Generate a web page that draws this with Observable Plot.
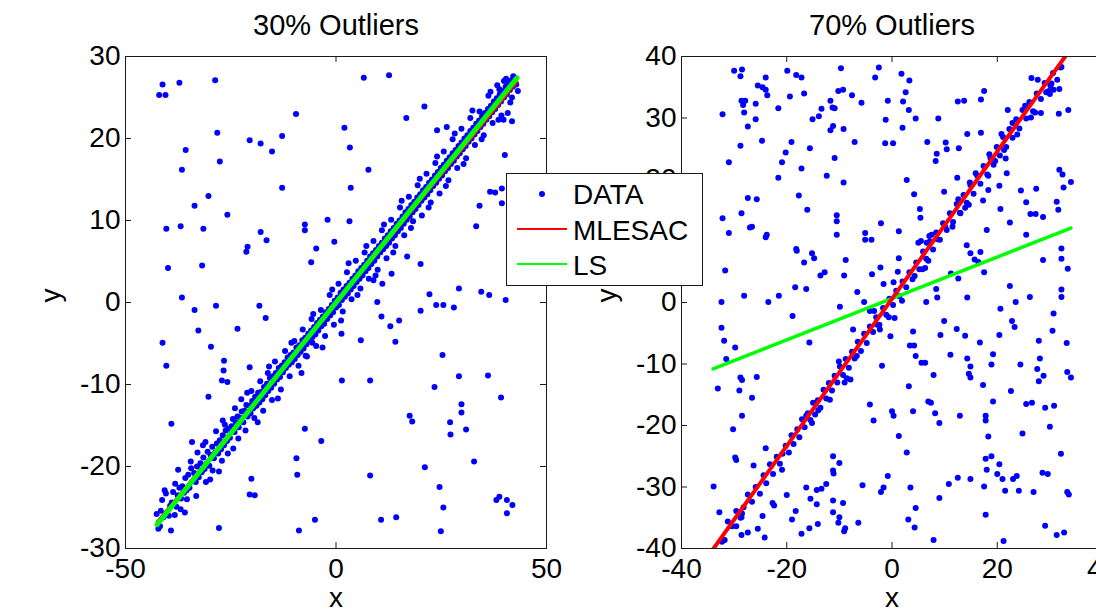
<!DOCTYPE html>
<html><head><meta charset="utf-8">
<script src="https://cdn.jsdelivr.net/npm/d3@7"></script>
<script src="https://cdn.jsdelivr.net/npm/@observablehq/plot@0.6"></script>
<style>
body{margin:0;background:#fff;}
#wrap{position:relative;width:1096px;height:611px;overflow:hidden;background:#fff;font-family:"Liberation Sans",Arial,Helvetica,sans-serif;}
#left,#right{position:absolute;top:0;width:560px;height:611px;}
#left{left:0px} #right{left:560px}
#left svg,#right svg{max-width:none !important;width:560px;height:611px;display:block;}
#legend{position:absolute;left:506px;top:173px;}
</style></head><body>
<div id="wrap"><div id="left"></div><div id="right"></div><div id="legend"></div></div>
<script>
const titles = ["30% Outliers", "70% Outliers"];
const axisLabels = ["x", "y"];
const legendLabels = ["DATA", "MLESAC", "LS"];
const leftXTicks = [-50, 0, 50];
const leftYTicks = [-30, -20, -10, 0, 10, 20, 30];
const rightXTicks = [-40, -20, 0, 20, 40];
const rightYTicks = [-40, -30, -20, -10, 0, 10, 20, 30, 40];

// 30% outliers panel: points on the model line
const leftInliers = [[-42.6,-25.8],[-42.2,-27.6],[-41.8,-27.3],[-41.6,-25.4],[-41.3,-24.1],[-41.0,-26.2],[-40.7,-22.9],[-40.4,-23.3],[-40.1,-25.6],[-39.7,-26.0],[-39.4,-24.8],[-39.0,-24.4],[-38.7,-23.1],[-38.3,-25.9],[-37.9,-24.9],[-37.6,-23.5],[-37.2,-22.6],[-36.8,-23.9],[-36.5,-22.4],[-36.1,-23.2],[-35.8,-21.4],[-35.5,-22.9],[-35.1,-21.0],[-34.8,-22.6],[-34.4,-20.2],[-34.0,-21.8],[-33.7,-20.8],[-33.3,-21.9],[-33.0,-20.0],[-32.6,-21.3],[-32.2,-19.6],[-31.9,-20.7],[-31.5,-18.9],[-31.2,-20.3],[-30.8,-19.7],[-30.5,-18.2],[-30.1,-19.9],[-29.8,-18.6],[-29.4,-17.6],[-29.0,-19.0],[-28.7,-18.3],[-28.3,-17.2],[-28.0,-18.4],[-27.6,-16.8],[-27.3,-17.9],[-26.9,-16.2],[-26.6,-17.4],[-26.2,-15.6],[-25.9,-16.9],[-25.5,-15.4],[-25.2,-16.5],[-24.8,-15.1],[-24.5,-14.2],[-24.1,-15.8],[-23.8,-14.6],[-23.4,-13.9],[-23.1,-15.2],[-22.7,-14.1],[-22.4,-13.3],[-22.0,-14.6],[-21.7,-13.2],[-21.3,-12.5],[-21.0,-13.9],[-20.6,-12.6],[-20.3,-13.5],[-19.9,-12.0],[-19.6,-12.9],[-19.2,-11.5],[-18.9,-12.6],[-18.5,-11.0],[-18.2,-12.2],[-17.8,-10.9],[-17.5,-11.8],[-17.1,-10.3],[-16.8,-11.3],[-16.4,-9.9],[-16.1,-10.8],[-15.7,-9.2],[-15.4,-10.4],[-15.0,-9.0],[-14.7,-9.9],[-14.3,-8.6],[-14.0,-9.4],[-13.6,-8.0],[-13.3,-9.1],[-12.9,-7.7],[-12.6,-8.5],[-12.2,-7.3],[-11.9,-8.0],[-11.5,-6.7],[-11.2,-7.6],[-10.8,-6.4],[-10.5,-7.3],[-10.1,-6.1],[-9.8,-6.9],[-9.4,-5.5],[-9.1,-6.4],[-8.7,-5.2],[-8.4,-6.0],[-8.0,-4.6],[-7.7,-5.6],[-7.3,-4.3],[-7.0,-5.1],[-6.6,-3.8],[-6.3,-4.6],[-5.9,-3.4],[-5.6,-4.2],[-5.2,-3.0],[-4.9,-3.9],[-4.5,-2.5],[-4.2,-3.4],[-3.8,-2.1],[-3.5,-2.9],[-3.1,-1.7],[-2.8,-2.6],[-2.4,-1.2],[-2.1,-2.0],[-1.7,-0.8],[-1.4,-1.6],[-1.0,-0.3],[-0.7,-1.2],[-0.3,0.2],[0.0,-0.6],[0.4,0.6],[0.7,-0.3],[1.1,1.2],[1.4,0.3],[1.8,1.6],[2.1,0.7],[2.5,2.0],[2.8,1.1],[3.2,2.4],[3.5,1.6],[3.9,2.9],[4.2,2.0],[4.6,3.3],[4.9,2.5],[5.3,3.8],[5.6,2.9],[6.0,4.2],[6.3,3.3],[6.7,4.6],[7.0,3.8],[7.4,5.1],[7.7,4.2],[8.1,5.6],[8.4,4.7],[8.8,6.0],[9.1,5.1],[9.5,6.4],[9.8,5.6],[10.2,6.9],[10.5,6.1],[10.9,7.3],[11.2,6.5],[11.6,7.8],[11.9,6.9],[12.3,8.2],[12.6,7.3],[13.0,8.7],[13.3,7.8],[13.7,9.1],[14.0,8.2],[14.4,9.6],[14.7,8.7],[15.1,10.0],[15.4,9.1],[15.8,10.5],[16.1,9.6],[16.5,11.0],[16.8,10.1],[17.2,11.4],[17.5,10.5],[17.9,11.9],[18.2,11.0],[18.6,12.3],[18.9,11.4],[19.3,12.8],[19.6,11.9],[20.0,13.2],[20.3,12.4],[20.7,13.7],[21.0,12.8],[21.4,14.1],[21.7,13.2],[22.1,14.6],[22.4,13.7],[22.8,15.0],[23.1,14.2],[23.5,15.5],[23.8,14.6],[24.2,15.9],[24.5,15.1],[24.9,16.4],[25.2,15.5],[25.6,16.8],[25.9,16.0],[26.3,17.3],[26.6,16.4],[27.0,17.7],[27.3,16.9],[27.7,18.2],[28.0,17.3],[28.4,18.6],[28.7,17.8],[29.1,19.1],[29.4,18.2],[29.8,19.5],[30.1,18.7],[30.5,20.0],[30.8,19.1],[31.2,20.4],[31.5,19.6],[31.9,20.9],[32.2,20.0],[32.6,21.3],[32.9,20.5],[33.3,21.8],[33.6,20.9],[34.0,22.2],[34.3,21.4],[34.7,22.7],[35.0,21.8],[35.4,23.1],[35.7,22.3],[36.1,23.6],[36.4,22.7],[36.8,24.0],[37.1,23.2],[37.5,24.5],[37.8,23.6],[38.2,24.9],[38.5,24.1],[38.9,25.4],[39.2,24.5],[39.6,25.8],[39.9,25.0],[40.3,26.3],[40.6,25.4],[41.0,26.7],[41.3,25.9],[41.7,27.1],[42.0,26.3],[42.4,27.4],[42.8,26.6],[43.2,25.8],
[-38.2,-22.1],[-36.9,-25.2],[-35.4,-24.0],[-34.5,-19.4],[-33.2,-23.6],[-31.6,-17.4],[-30.9,-21.9],[-29.3,-20.5],[-28.5,-15.7],[-27.8,-20.6],[-27.1,-19.3],[-26.4,-14.9],[-25.7,-18.4],[-24.0,-12.9],[-23.2,-16.6],[-22.5,-11.8],[-21.5,-15.6],[-20.1,-10.8],[-19.4,-14.1],[-18.0,-9.6],[-17.3,-13.2],[-16.2,-8.6],[-15.2,-11.9],[-14.5,-7.2],[-13.1,-10.6],[-12.1,-5.9],[-11.0,-9.0],[-9.9,-4.7],[-8.9,-7.7],[-7.9,-3.3],[-6.9,-6.6],[-5.8,-2.0],[-4.7,-5.3],[-3.6,-0.9],[-2.6,-4.1],[-1.5,0.9],[-0.5,-2.7],[0.6,2.3],[1.6,-1.1],[2.6,3.7],[3.7,0.4],[4.7,5.1],[5.8,1.7],[6.8,6.1],[7.8,2.9],[8.9,7.5],[9.9,4.0],[10.9,8.8],[12.0,5.4],[13.1,10.1],[14.1,6.9],[15.2,11.6],[16.2,8.2],[17.3,12.9],[18.3,9.9],[19.4,14.3],[20.4,10.6],[21.5,15.7],[22.5,12.2],[23.6,17.0],[24.6,13.3],[25.6,18.4],[26.7,14.9],[27.7,19.9],[28.8,16.4],[29.8,21.2],[30.9,17.6],[31.9,22.5],[33.0,19.2],[34.1,23.3],[35.1,20.4],[36.2,25.2],[37.2,21.9],[38.3,26.5],[39.3,22.8],[40.4,27.3],[41.4,24.4],[42.1,27.6],[41.8,25.0],[40.8,23.1],[39.9,27.0],[38.8,26.0],[41.8,22.1],
[-37.5,-20.4],[-35.9,-25.6],[-32.9,-18.3],[-29.9,-21.6],[-26.9,-14.4],[-24.4,-17.8],[-21.1,-11.0],[-18.6,-14.6],[-15.9,-7.8],[-13.8,-11.7],[-10.6,-4.9],[-8.2,-8.6],[-5.4,-1.4],[-3.2,-5.5],[-0.9,1.6],[1.2,-2.2],[3.0,4.8],[5.1,0.9],[7.2,6.9],[9.4,3.3],[11.4,9.5],[13.6,6.1],[15.6,12.4],[17.8,9.1],[19.9,15.1],[22.0,11.6],[24.0,17.8],[26.1,14.2],[28.2,20.6],[30.3,16.9],[32.4,23.4],[34.6,19.9],[36.7,25.7],[38.6,22.3]];

// 30% outliers panel: outlying points
const leftOutliers = [[-42.0,25.3],[-40.5,25.3],[-41.2,26.6],[-37.2,26.8],[-28.7,27.1],[6.6,27.4],[12.6,27.7],[-9.5,23.0],[-28.2,20.7],[-20.5,19.8],[-17.9,19.4],[-12.8,20.3],[-15.2,18.4],[-35.7,18.6],[-27.6,17.2],[-36.6,16.2],[2.0,21.3],[3.3,18.9],[16.7,22.5],[21.0,23.9],[24.0,21.0],[26.3,21.4],[7.7,16.2],[3.5,14.0],[-12.8,14.0],[-30.3,13.0],[-33.6,11.8],[-25.8,10.7],[-36.9,9.3],[-31.5,9.0],[-40.3,9.0],[-7.4,9.5],[-7.4,8.8],[-2.0,10.1],[3.2,9.9],[-17.9,8.6],[-16.5,7.6],[-0.4,7.4],[-4.7,6.6],[-21.0,6.8],[-21.3,6.2],[-5.9,4.9],[-31.8,4.5],[-39.9,4.2],[16.9,5.6],[20.1,4.7],[13.2,3.5],[11.0,2.3],[8.9,2.7],[22.2,1.0],[29.2,1.7],[34.5,1.3],[36.4,0.9],[40.3,0.3],[23.8,-0.3],[25.5,-0.3],[28.0,-0.6],[20.1,-1.0],[9.8,0.05],[10.8,-1.7],[12.9,-2.9],[15.0,-2.2],[14.1,-4.8],[5.9,-4.6],[1.3,-3.8],[-36.6,0.6],[-28.5,-0.4],[-33.6,-0.9],[-18.2,-0.4],[-16.7,-1.9],[-32.7,-3.4],[-23.4,-3.2],[-41.2,-4.9],[-29.7,-5.4],[-40.3,-7.7],[-26.6,-7.1],[-26.7,-8.3],[-27.1,-9.5],[-25.8,-9.7],[-20.5,-7.9],[-7.2,-6.5],[-5.6,-4.9],[1.4,-9.5],[8.1,-9.5],[25.3,-6.4],[29.2,-9.0],[36.1,-8.9],[39.2,-11.6],[23.4,-10.3],[29.8,-12.4],[29.8,-13.4],[17.5,-13.8],[18.1,-14.5],[27.1,-14.6],[27.2,-16.1],[30.9,-15.5],[32.8,-19.4],[21.1,-20.1],[-7.4,-15.4],[-3.5,-16.9],[-39.1,-14.8],[-30.3,-11.5],[-9.4,-19.0],[-9.2,-21.0],[8.1,-21.1],[-20.1,-21.5],[-20.5,-23.4],[-19.3,-23.5],[24.6,-22.5],[25.5,-25.0],[38.1,-24.1],[38.8,-23.7],[40.6,-24.1],[41.9,-24.7],[40.6,-25.7],[14.3,-26.2],[10.7,-26.5],[-5.0,-26.5],[-8.8,-27.8],[24.9,-27.9],[-27.8,-27.5],[-39.2,-27.8],[40.1,18.0],[39.8,22.3],[36.6,13.5],[37.8,13.4],[39.4,13.9],[39.4,12.1],[34.1,11.8],[33.3,9.3],[-34.2,-17.0],[-31.0,-17.0]];

// 70% outliers panel: points on the model line
const rightInliers = [[-32.3,-38.9],[-31.2,-35.6],[-30.4,-36.4],[-29.6,-33.9],[-28.8,-35.0],[-28.2,-33.3],[-27.4,-31.2],[-26.6,-32.4],[-25.9,-30.0],[-25.1,-31.1],[-24.4,-28.1],[-23.9,-29.4],[-23.2,-26.3],[-22.6,-27.9],[-21.9,-25.1],[-21.3,-26.2],[-20.8,-24.6],[-20.2,-23.3],[-19.6,-24.4],[-19.1,-21.6],[-18.7,-23.0],[-18.0,-20.6],[-17.6,-21.9],[-17.1,-19.0],[-16.6,-20.3],[-16.0,-18.0],[-15.5,-19.1],[-15.0,-16.3],[-14.6,-18.2],[-14.1,-15.9],[-13.6,-17.1],[-13.0,-14.2],[-12.5,-15.6],[-12.0,-13.1],[-11.4,-14.3],[-10.9,-11.9],[-10.4,-13.0],[-9.9,-10.4],[-9.3,-11.8],[-8.8,-9.2],[-8.2,-10.6],[-7.6,-8.0],[-7.1,-9.1],[-6.5,-6.4],[-5.9,-7.9],[-5.3,-5.1],[-4.8,-6.6],[-4.2,-3.9],[-3.6,-4.8],[-3.0,-2.4],[-2.4,-3.6],[-1.7,-0.9],[-1.1,-2.0],[-0.5,0.6],[0.2,-0.4],[0.8,1.9],[1.4,1.0],[2.0,3.4],[2.7,2.5],[3.3,4.9],[3.9,3.8],[4.6,6.5],[5.2,5.4],[5.9,8.3],[6.5,7.1],[7.2,9.9],[7.8,8.6],[8.4,11.4],[9.1,10.2],[9.7,12.9],[10.4,11.8],[11.0,14.5],[11.6,13.1],[12.3,16.0],[12.9,14.6],[13.6,17.5],[14.2,16.2],[14.9,19.1],[15.5,17.7],[16.2,20.6],[16.8,19.3],[17.4,22.2],[18.1,20.8],[18.7,23.5],[19.3,22.4],[19.9,25.3],[20.5,23.9],[21.1,26.9],[21.7,25.3],[22.3,28.2],[22.9,26.8],[23.6,29.8],[24.2,28.3],[24.8,31.3],[25.5,29.9],[26.1,32.6],[26.8,31.1],[27.5,34.0],[28.3,33.1],[29.0,35.7],[29.8,34.4],[30.6,37.3],[31.4,36.2],[32.2,38.3],
[-16.3,-18.4],[-15.2,-19.6],[-14.0,-17.5],[-11.8,-15.8],[-10.1,-9.6],[-9.0,-13.0],[18.5,24.1],[19.6,23.0],[20.8,27.4],[21.3,24.8],[22.9,29.2],[23.8,27.3],[25.3,32.0],[26.4,30.1],[29.3,34.2],[30.1,35.3],[5.5,10.0],[6.6,9.7],[7.5,11.0],[12.6,16.8],[13.9,15.4],[15.9,21.0],[-6.7,-8.7],[10.1,12.3],[11.5,12.3],[13.0,14.5],[14.6,15.9]];

// 70% outliers panel: outlying points
const rightOutliers = [[-30.0,37.7],[-28.5,37.9],[-28.8,36.8],[-19.9,37.7],[-18.2,37.0],[-17.2,36.6],[-24.0,36.6],[-25.5,35.3],[-24.6,35.0],[-24.0,34.6],[-23.7,33.7],[-19.4,33.5],[-16.7,34.0],[-9.7,38.1],[-2.5,38.2],[-3.2,36.6],[1.8,37.2],[3.3,36.1],[-10.2,34.4],[-9.3,34.6],[-7.6,33.7],[2.6,34.2],[-0.8,32.8],[-28.6,32.8],[-27.9,32.8],[-28.3,32.1],[-28.1,30.9],[-25.9,32.3],[-32.2,30.6],[-25.9,29.8],[-27.4,28.6],[-21.6,31.6],[-11.7,32.8],[-11.3,31.7],[-10.9,31.6],[-13.4,31.5],[-13.9,30.3],[-15.1,29.8],[-5.8,32.5],[2.1,32.7],[3.2,31.3],[4.5,29.9],[-1.2,29.7],[-11.2,28.7],[-11.7,28.0],[-9.2,28.2],[2.0,28.4],[8.8,29.9],[12.5,32.7],[13.7,32.8],[17.5,34.4],[16.9,33.0],[14.3,27.4],[16.9,27.6],[6.7,26.1],[-1.3,25.9],[0.2,25.9],[-7.1,26.1],[-19.1,26.1],[-20.2,24.4],[-15.6,25.1],[-24.7,26.3],[-28.8,25.5],[-31.0,22.8],[-20.9,22.8],[-17.2,21.8],[-21.6,20.3],[-10.9,23.5],[-12.4,20.6],[-9.2,19.5],[2.8,19.9],[8.5,24.2],[8.3,23.0],[10.4,24.9],[10.2,26.0],[12.7,25.1],[9.9,18.0],[12.4,20.3],[14.8,19.5],[4.2,17.6],[5.3,15.2],[5.4,13.8],[-2.1,12.9],[1.3,11.6],[21.6,23.4],[21.8,21.0],[20.4,19.0],[18.3,20.6],[18.3,18.3],[17.3,16.6],[20.6,15.2],[24.5,18.2],[25.5,16.3],[27.4,18.5],[26.3,14.4],[27.3,14.4],[28.7,13.9],[22.4,13.0],[25.5,11.0],[31.3,16.4],[31.6,15.1],[32.4,20.8],[31.8,21.6],[34.0,19.6],[32.6,18.7],[33.5,31.3],[31.7,30.7],[31.8,34.7],[27.7,36.2],[26.5,36.5],[28.3,30.8],[27.2,30.9],[30.0,33.9],[30.3,35.6],[30.7,34.6],[32.0,38.2],[22.0,31.3],[32.2,8.8],[32.2,7.1],[33.4,5.5],[32.2,2.1],[32.2,0.9],[28.7,6.9],[30.7,-1.8],[30.5,-4.6],[33.2,-6.6],[27.9,-6.2],[26.2,0.9],[23.5,0.1],[22.4,2.7],[20.6,-1.0],[20.4,-5.3],[22.8,-3.0],[23.3,-4.0],[19.2,-8.4],[18.9,-10.1],[24.4,-10.1],[27.6,-10.8],[28.1,-9.1],[28.8,-11.9],[27.9,-12.8],[33.3,-11.3],[34.0,-12.2],[22.6,-14.4],[19.2,-16.1],[25.5,-16.5],[26.6,-16.3],[29.1,-17.1],[30.8,-16.8],[30.0,-20.2],[24.8,-21.3],[17.8,-18.4],[17.8,-19.2],[18.3,-21.8],[17.8,-25.4],[18.9,-25.0],[18.0,-27.2],[20.4,-26.3],[20.0,-27.9],[21.0,-28.7],[23.0,-28.7],[23.7,-28.2],[21.5,-30.6],[24.1,-30.6],[26.9,-30.8],[28.6,-27.7],[29.6,-27.9],[32.1,-24.6],[33.3,-30.8],[33.6,-31.2],[29.1,-36.3],[32.7,-37.4],[31.3,-37.8],[21.2,-38.8],[17.5,-29.9],[17.8,-34.5],[14.9,-28.7],[12.5,-28.5],[10.8,-29.5],[9.0,-31.8],[7.9,-38.6],[4.5,-33.4],[4.3,-36.6],[3.1,-35.3],[3.5,-30.1],[-0.8,-28.2],[-1.6,-30.1],[-2.1,-30.8],[-5.6,-29.7],[-6.4,-35.8],[-8.9,-36.7],[-9.1,-37.2],[-9.3,-32.6],[-11.2,-32.2],[-10.2,-35.8],[-10.0,-34.9],[-11.2,-34.1],[-11.2,-27.3],[-11.1,-27.8],[-10.0,-26.1],[-11.2,-25.0],[-12.5,-29.5],[-13.4,-30.3],[-14.3,-30.5],[-16.3,-30.1],[-15.5,-31.9],[-14.3,-32.8],[-14.1,-36.0],[-15.7,-36.7],[-17.2,-37.6],[-18.3,-33.9],[-19.0,-35.3],[-20.0,-31.3],[-20.9,-27.2],[-22.7,-32.6],[-22.4,-33.0],[-24.2,-38.2],[-25.5,-36.8],[-24.6,-34.7],[-24.0,-23.7],[-26.3,-26.5],[-27.4,-37.4],[-28.6,-37.8],[-28.6,-34.9],[-28.5,-34.3],[-29.6,-36.4],[-31.8,-38.6],[-32.8,-34.1],[-33.9,-29.9],[-29.6,-25.6],[-29.8,-25.2],[-30.2,-20.6],[-28.5,-18.4],[-29.0,-14.3],[-28.5,-12.6],[-28.8,-12.2],[-26.6,-15.5],[-25.7,-12.1],[-33.1,-14.0],[-31.5,-9.2],[-31.9,-6.2],[-29.8,-7.3],[-32.4,-4.1],[-32.4,0.1],[-28.1,1.1],[-23.5,0.1],[-21.5,1.1],[-18.4,2.5],[-16.3,2.2],[-18.9,-2.2],[-15.7,-6.5],[-31.7,5.2],[-32.2,13.7],[-31.0,11.3],[-28.6,14.5],[-27.4,17.0],[-25.7,16.8],[-27.0,12.2],[-26.6,12.3],[-24.0,10.6],[-23.8,11.0],[-18.2,8.7],[-18.1,8.4],[-16.7,6.5],[-15.2,8.0],[-14.8,7.2],[-13.6,4.4],[-12.8,4.9],[-17.7,17.4],[-16.1,15.1],[-10.5,14.2],[-10.5,13.2],[-10.5,11.0],[-8.8,6.9],[-9.1,4.4],[-5.1,11.3],[-5.1,10.2],[-3.9,10.2],[-3.8,4.6],[-2.2,5.7],[-1.6,3.0],[0.3,3.3],[1.1,5.0],[1.3,7.2],[-6.6,1.7],[-5.3,0.1],[-7.4,-4.4],[-9.9,-0.7],[4.3,4.3],[5.8,5.4],[6.3,5.6],[6.9,6.8],[5.0,9.7],[7.1,10.8],[8.6,10.3],[8.4,2.2],[8.6,0.8],[6.5,0.1],[9.9,-3.0],[9.2,-5.3],[11.1,-8.5],[12.3,-4.3],[13.9,-5.4],[14.3,0.8],[12.6,3.9],[11.2,4.7],[14.2,9.3],[14.9,8.0],[15.7,7.0],[16.4,6.6],[16.8,8.2],[17.5,4.9],[18.0,11.8],[16.7,-6.5],[14.3,-9.1],[14.9,-10.4],[14.6,-11.6],[14.9,-12.2],[17.3,-13.4],[12.9,-18.4],[9.0,-19.6],[8.2,-18.0],[7.4,-16.3],[6.9,-16.1],[7.9,-11.8],[5.6,-9.8],[6.3,-9.8],[4.5,-8.7],[3.4,-7.0],[4.2,-7.0],[4.0,-4.7],[3.2,-13.6],[4.0,-17.7],[0.0,-17.7],[0.3,-18.4],[1.3,-21.7],[2.8,-24.4],[-4.2,-16.6],[-3.5,-19.2],[-1.9,-10.3],[-0.3,-5.5],[0.5,-2.5],[-0.6,-2.4],[-2.8,-3.6],[-2.3,-4.4],[-4.2,-1.4],[-3.4,-1.4],[1.9,0.3],[-7.9,-12.5],[-8.6,-12.3]];

// fitted lines (end points)
const leftMlesac = [[-42.5,-26.8],[43.0,26.9]];
const leftLs = [[-42.5,-27.1],[43.0,27.4]];
const rightMlesac = [[-34.0,-40.1],[34.0,41.3]];
const rightLs = [[-34.0,-10.8],[34.0,12.1]];

const FONT = '"Liberation Sans", Arial, Helvetica, sans-serif';
const AX = "#1a1a1a";

function panel({points, lines, xDomain, yDomain, xTicks, yTicks, title, width, marginLeft, marginRight}) {
  const H = 611, mt = 56, mb = 63;
  const fw = width - marginLeft - marginRight, fh = H - mt - mb;
  const fmt = d => String(d);
  return Plot.plot({
    width, height: H, marginLeft, marginRight, marginTop: mt, marginBottom: mb,
    style: {fontFamily: FONT, fontSize: "28px", background: "transparent", color: "#000", overflow: "visible", maxWidth: "none"},
    x: {domain: xDomain}, y: {domain: yDomain},
    marks: [
      Plot.dot(points, {x: d => d[0], y: d => d[1], r: 3, fill: "#0000ff", stroke: null}),
      ...lines.map(l => Plot.line(l.pts, {x: d => d[0], y: d => d[1], stroke: l.color, strokeWidth: l.w, clip: true})),
      Plot.frame({stroke: AX, strokeWidth: 1}),
      Plot.tickY(yTicks, {y: d => d, insetRight: fw - 6, stroke: AX}),
      Plot.tickY(yTicks, {y: d => d, insetLeft: fw - 6, stroke: AX}),
      Plot.tickX(xTicks, {x: d => d, insetTop: fh - 6, stroke: AX}),
      Plot.tickX(xTicks, {x: d => d, insetBottom: fh - 6, stroke: AX}),
      Plot.axisX(xTicks, {anchor: "bottom", tickSize: 0, tickPadding: 10, tickFormat: fmt, label: null, fontSize: 28, fill: "#000"}),
      Plot.axisY(yTicks, {anchor: "left", tickSize: 0, tickPadding: 5, tickFormat: fmt, label: null, fontSize: 28, fill: "#000"}),
      Plot.text([title], {frameAnchor: "top", dy: -31, lineAnchor: "middle", fontSize: 29, fill: "#000"}),
      Plot.text([axisLabels[0]], {frameAnchor: "bottom", dy: 50, lineAnchor: "middle", fontSize: 28, fill: "#000"}),
      Plot.text([axisLabels[1]], {frameAnchor: "left", dx: -74, rotate: -90, lineAnchor: "middle", fontSize: 28, fill: "#000"})
    ]
  });
}

document.getElementById("left").append(panel({
  points: leftInliers.concat(leftOutliers),
  lines: [{pts: leftMlesac, color: "#ff0000", w: 3}, {pts: leftLs, color: "#00ff00", w: 5}],
  xDomain: [-50, 50], yDomain: [-30, 30], xTicks: leftXTicks, yTicks: leftYTicks,
  title: titles[0], width: 560, marginLeft: 125, marginRight: 14
}));

document.getElementById("right").append(panel({
  points: rightInliers.concat(rightOutliers),
  lines: [{pts: rightLs, color: "#00ff00", w: 3.5}, {pts: rightMlesac, color: "#ff0000", w: 4}],
  xDomain: [-40, 40], yDomain: [-40, 40], xTicks: rightXTicks, yTicks: rightYTicks,
  title: titles[1], width: 560, marginLeft: 121, marginRight: 18
}));

// legend
const lg = d3.select("#legend").append("svg").attr("width", 198).attr("height", 114)
  .style("font-family", FONT).style("display", "block");
lg.append("rect").attr("x", 0.5).attr("y", 0.5).attr("width", 196).attr("height", 112)
  .attr("fill", "#fff").attr("stroke", AX);
lg.append("circle").attr("cx", 36).attr("cy", 21).attr("r", 3).attr("fill", "#0000ff");
lg.append("line").attr("x1", 11).attr("x2", 61).attr("y1", 56).attr("y2", 56).attr("stroke", "#ff0000").attr("stroke-width", 2);
lg.append("line").attr("x1", 11).attr("x2", 61).attr("y1", 91).attr("y2", 91).attr("stroke", "#00ff00").attr("stroke-width", 2);
const baselines = [31, 67, 102];
legendLabels.forEach((t, i) => {
  lg.append("text").attr("x", 67).attr("y", baselines[i]).attr("font-size", 28).attr("fill", "#000").text(t);
});
</script>
</body></html>
